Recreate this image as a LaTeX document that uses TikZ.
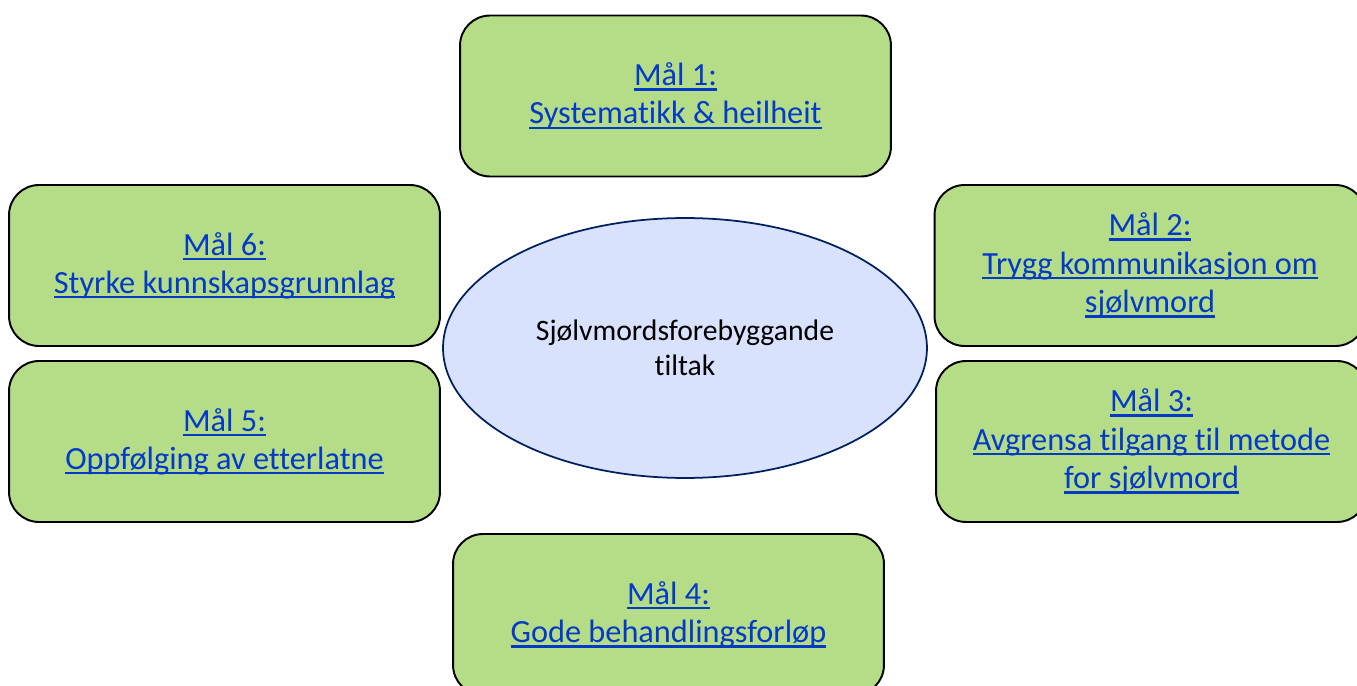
\documentclass[tikz,border=0pt]{standalone}
\usepackage{fontspec}
\setmainfont{Carlito}[Ligatures=NoCommon]
\usetikzlibrary{shapes.geometric,positioning}
\definecolor{goalgreen}{RGB}{181,221,136}
\definecolor{linkblue}{RGB}{5,58,200}
\definecolor{ovalblue}{RGB}{216,226,253}
\definecolor{navy}{RGB}{0,32,96}
\newsavebox{\lnkbox}
\newcommand{\lnk}[1]{\sbox{\lnkbox}{#1}\rlap{\rule[-0.16em]{\wd\lnkbox}{0.08em}}\usebox{\lnkbox}}

\begin{document}
\begin{tikzpicture}[x=0.02cm, y=-0.02cm,
    goal/.style={rectangle, rounded corners=0.6cm, draw=black, line width=1.1pt, fill=goalgreen, minimum width=8.62cm, minimum height=3.22cm, align=center, text=linkblue, font=\fontsize{18.4}{21.8}\selectfont},
    centre/.style={ellipse, draw=navy, line width=1pt, fill=ovalblue, minimum width=9.68cm, minimum height=5.2cm, align=center, font=\fontsize{16.9}{19.9}\selectfont}
]
    \clip (0,0) rectangle (1357,686);

    \node[centre] (tiltak) at (685,348) {Sjølvmordsforebyggande\\tiltak};

    \node[goal] (m1) at (675.5,96) {\lnk{Mål 1:}\\\lnk{Systematikk \& heilheit}};
    \node[goal] (m2) at (1150,265.5) {\lnk{Mål 2:}\\\lnk{Trygg kommunikasjon om}\\\lnk{sjølvmord}};
    \node[goal] (m3) at (1151.5,441.5) {\lnk{Mål 3:}\\\lnk{Avgrensa tilgang til metode}\\\lnk{for sjølvmord}};
    \node[goal] (m4) at (668.5,614.5) {\lnk{Mål 4:}\\\lnk{Gode behandlingsforløp}};
    \node[goal] (m5) at (224.5,441.5) {\lnk{Mål 5:}\\\lnk{Oppfølging av etterlatne}};
    \node[goal] (m6) at (224.5,265.5) {\lnk{Mål 6:}\\\lnk{Styrke kunnskapsgrunnlag}};
\end{tikzpicture}
\end{document}
